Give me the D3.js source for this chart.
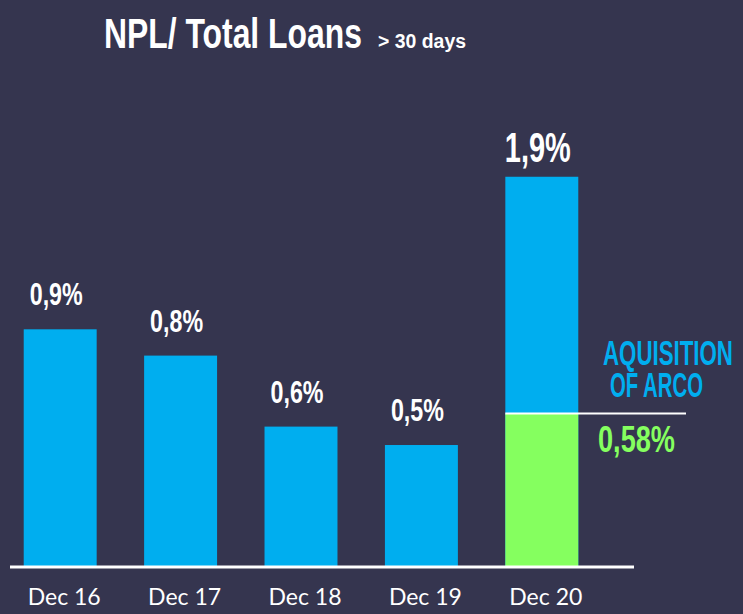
<!DOCTYPE html>
<html>
<head>
<meta charset="utf-8">
<script src="https://cdn.jsdelivr.net/npm/d3@7"></script>
<style>
  body { margin: 0; background: #35354f; }
  svg { display: block; }
  .cond { font-family: "Liberation Sans Narrow", "Liberation Sans", sans-serif; font-weight: bold; }
</style>
</head>
<body>
<svg width="743" height="614"></svg>
<script>
// data
var years = ['Dec 16', 'Dec 17', 'Dec 18', 'Dec 19', 'Dec 20'];
// bar heights as drawn (in % units), labels as printed
var npl = [0.9, 0.8, 0.53, 0.46, 1.48];
var nplLabels = ['0,9%', '0,8%', '0,6%', '0,5%', '1,9%'];
// part of Dec 20 before the Arco acquisition
var organic = 0.58;
var organicLabel = '0,58%';

var svg = d3.select('svg');
var base = 566;

var x = d3.scaleBand()
  .domain(years)
  .range([0, 602])
  .paddingInner(0.394)
  .paddingOuter(0.197);

var y = d3.scaleLinear()
  .domain([0, 1])
  .range([base, base - 263]);

// condensed text: draw at 0,0 and squeeze horizontally to a width
var condText = function(px, py, size, color, str, width, anchor) {
  var t = svg.append('text')
    .attr('class', 'cond')
    .attr('font-size', size)
    .attr('fill', color)
    .attr('text-anchor', anchor || 'start')
    .text(str);
  var k = width / t.node().getComputedTextLength();
  t.attr('transform', 'translate(' + px + ',' + py + ') scale(' + k + ',1)');
  return t;
};

// title
condText(104, 48, 43, '#fff', 'NPL/ Total Loans', 258);
condText(378, 48, 21, '#fff', '> 30 days', 88);

// bars
svg.selectAll('rect.bar')
  .data(npl)
  .enter().append('rect')
  .attr('class', 'bar')
  .attr('x', function(d, i) { return x(years[i]); })
  .attr('y', function(d) { return y(d); })
  .attr('width', x.bandwidth())
  .attr('height', function(d) { return base - y(d); })
  .attr('fill', '#00aeef');

// green part of the last bar
var last = years[years.length - 1];
svg.append('rect')
  .attr('x', x(last))
  .attr('y', y(organic))
  .attr('width', x.bandwidth())
  .attr('height', base - y(organic))
  .attr('fill', '#85ff5f');

svg.append('line')
  .attr('x1', x(last)).attr('x2', 686)
  .attr('y1', y(organic)).attr('y2', y(organic))
  .attr('stroke', '#fff').attr('stroke-width', 2);

// value labels
npl.forEach(function(d, i) {
  var big = i == npl.length - 1;
  condText(x(years[i]) + x.bandwidth() / 2 - 4, y(d) - (big ? 15 : 24),
    big ? 42 : 31, '#fff', nplLabels[i], big ? 66 : 53, 'middle');
});

// arco note
condText(603, 365, 36, '#00aeef', 'AQUISITION', 130);
condText(610, 397, 36, '#00aeef', 'OF ARCO', 93);
condText(598, 452, 37, '#85ff5f', organicLabel, 77);

// x axis
var axis = svg.append('g')
  .attr('transform', 'translate(0,' + (base + 1) + ')')
  .call(d3.axisBottom(x).tickSize(0).tickPadding(22));

axis.select('.domain').remove();
axis.append('line')
  .attr('x1', 10).attr('x2', 634)
  .attr('stroke', '#fff').attr('stroke-width', 3);

axis.selectAll('.tick text')
  .attr('fill', '#fff')
  .attr('font-size', 23)
  .attr('font-family', 'Lato, "Open Sans", sans-serif')
  .attr('dx', 4);
</script>
</body>
</html>
